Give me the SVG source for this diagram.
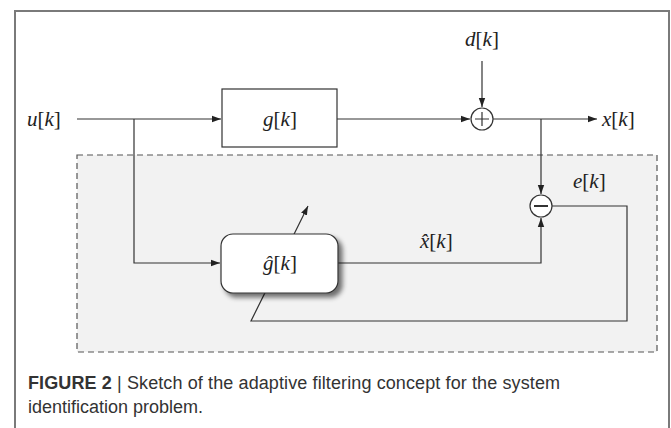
<svg xmlns="http://www.w3.org/2000/svg" width="671" height="428" viewBox="0 0 671 428">
<style>
.ln{fill:none;stroke:#333;stroke-width:1.2}
.m{font-family:"Liberation Serif","DejaVu Serif",serif;font-size:21px;fill:#222}
.i{font-style:italic}
.cap{font-family:"Liberation Sans",Arial,sans-serif;font-size:18px;fill:#333}
</style>
<defs>
<marker id="ah" markerUnits="userSpaceOnUse" markerWidth="10" markerHeight="8" refX="9" refY="4" orient="auto">
<path d="M0,0.8 L9,4 L0,7.2 Z" fill="#222"/>
</marker>
<filter id="sh" x="-20%" y="-20%" width="150%" height="160%">
<feGaussianBlur in="SourceAlpha" stdDeviation="2.5"/>
<feOffset dx="4" dy="4" result="b"/>
<feComponentTransfer><feFuncA type="linear" slope="0.55"/></feComponentTransfer>
<feMerge><feMergeNode/><feMergeNode in="SourceGraphic"/></feMerge>
</filter>
</defs>
<rect width="671" height="428" fill="#fff"/>
<path d="M15,430 V11 H669 V430" fill="none" stroke="#7a7a7a" stroke-width="2"/>
<g id="adaptive-region">
<rect x="77" y="155" width="580" height="197" fill="#f2f2f2" stroke="#555" stroke-width="1.2" stroke-dasharray="6,4"/>
</g>
<g id="connectors">
<path class="ln" d="M77,119 H221" marker-end="url(#ah)"/>
<path class="ln" d="M134,119 V263 H220" marker-end="url(#ah)"/>
<path class="ln" d="M337,119 H470" marker-end="url(#ah)"/>
<path class="ln" d="M482,61 V107" marker-end="url(#ah)"/>
<path class="ln" d="M493,119 H597" marker-end="url(#ah)"/>
<path class="ln" d="M541,119 V194" marker-end="url(#ah)"/>
<path class="ln" d="M338,263 H541 V218" marker-end="url(#ah)"/>
<path class="ln" d="M552,206 H627 V321 H251 L308,206" marker-end="url(#ah)"/>
</g>
<g id="g-block">
<rect x="222" y="89" width="115" height="58" fill="#fff" stroke="#333" stroke-width="1.2"/>
<text class="m" x="280" y="126" text-anchor="middle"><tspan class="i">g</tspan>[<tspan class="i">k</tspan>]</text>
</g>
<g id="ghat-block">
<rect x="221" y="234" width="117" height="59" rx="12" fill="#fff" stroke="#333" stroke-width="1.2" filter="url(#sh)"/>
<text class="m" x="280" y="270" text-anchor="middle"><tspan class="i">ĝ</tspan>[<tspan class="i">k</tspan>]</text>
</g>
<g id="sum">
<circle cx="482" cy="119" r="11" fill="#fff" stroke="#333" stroke-width="1.2"/>
<path class="ln" d="M475,119 H489 M482,112 V126"/>
</g>
<g id="diff">
<circle cx="541" cy="206" r="11" fill="#fff" stroke="#333" stroke-width="1.2"/>
<path d="M534,206 H548" fill="none" stroke="#333" stroke-width="2"/>
</g>
<g id="labels">
<text class="m" x="27" y="126"><tspan class="i">u</tspan>[<tspan class="i">k</tspan>]</text>
<text class="m" x="482" y="46" text-anchor="middle"><tspan class="i">d</tspan>[<tspan class="i">k</tspan>]</text>
<text class="m" x="602" y="126"><tspan class="i">x</tspan>[<tspan class="i">k</tspan>]</text>
<text class="m" x="573" y="188"><tspan class="i">e</tspan>[<tspan class="i">k</tspan>]</text>
<text class="m" x="420" y="248"><tspan class="i">x̂</tspan>[<tspan class="i">k</tspan>]</text>
</g>
<g id="caption">
<text class="cap" x="28" y="389" textLength="532" lengthAdjust="spacing"><tspan font-weight="bold">FIGURE 2</tspan> | Sketch of the adaptive filtering concept for the system</text>
<text class="cap" x="28" y="413">identification problem.</text>
</g>
</svg>
